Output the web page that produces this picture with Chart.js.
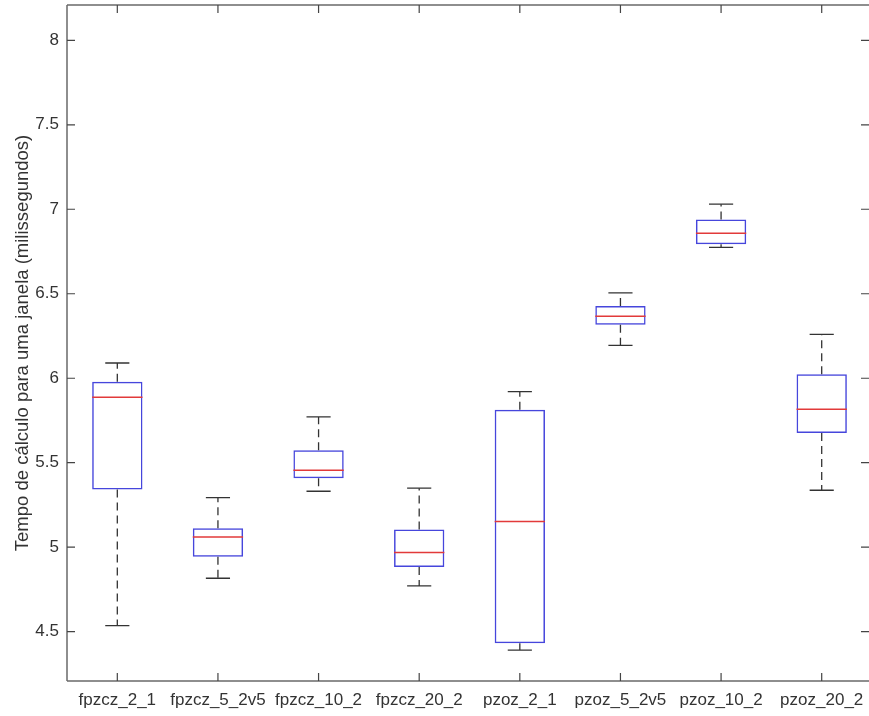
<!DOCTYPE html>
<html>
<head>
<meta charset="utf-8">
<style>
  html, body { margin: 0; padding: 0; background: #ffffff; }
  #wrap { width: 869px; height: 716px; }
</style>
<script src="https://cdn.jsdelivr.net/npm/chart.js@4/dist/chart.umd.min.js"></script>
</head>
<body>
<div id="wrap"><canvas id="c" width="869" height="716"></canvas></div>
<script>
const categories = ['fpzcz_2_1', 'fpzcz_5_2v5', 'fpzcz_10_2', 'fpzcz_20_2', 'pzoz_2_1', 'pzoz_5_2v5', 'pzoz_10_2', 'pzoz_20_2'];
const whiskerLow  = [4.536, 4.816, 5.331, 4.771, 4.391, 6.195, 6.775, 5.337];
const q1          = [5.341, 4.943, 5.408, 4.882, 4.432, 6.316, 6.793, 5.676];
const median      = [5.887, 5.061, 5.456, 4.969, 5.152, 6.367, 6.858, 5.817];
const q3          = [5.979, 5.112, 5.574, 5.105, 5.813, 6.428, 6.939, 6.024];
const whiskerHigh = [6.090, 5.293, 5.771, 5.349, 5.921, 6.505, 7.030, 6.260];
const yTicks = [4.5, 5, 5.5, 6, 6.5, 7, 7.5, 8];
const yTitle = 'Tempo de cálculo para uma janela (milissegundos)';

const FONT = 'Liberation Sans, Arial, sans-serif';
const AXIS_COLOR = '#6a6a6a';
const TEXT_COLOR = '#333333';
const BOX_COLOR = '#4646dc';
const MED_COLOR = '#e23a3a';
const WHISK_COLOR = '#333333';
const CAP_HALF = 0.12;
const TICK_LEN = 8;

function noPad(s) { s.paddingTop = 0; s.paddingBottom = 0; s.paddingLeft = 0; s.paddingRight = 0; }

const boxPlugin = {
  id: 'boxextras',
  afterDatasetsDraw(chart) {
    const ctx = chart.ctx;
    const xs = chart.scales.x, ys = chart.scales.y;
    const a = chart.chartArea;
    ctx.save();
    for (let i = 0; i < categories.length; i++) {
      const x = xs.getPixelForValue(i);
      ctx.strokeStyle = WHISK_COLOR;
      ctx.lineWidth = 1.3;
      ctx.setLineDash([8, 5]);
      ctx.beginPath();
      ctx.moveTo(x, ys.getPixelForValue(q3[i]));
      ctx.lineTo(x, ys.getPixelForValue(whiskerHigh[i]));
      ctx.moveTo(x, ys.getPixelForValue(q1[i]));
      ctx.lineTo(x, ys.getPixelForValue(whiskerLow[i]));
      ctx.stroke();
      ctx.setLineDash([]);
      ctx.beginPath();
      const xl = xs.getPixelForValue(i - CAP_HALF), xr = xs.getPixelForValue(i + CAP_HALF);
      const yh = ys.getPixelForValue(whiskerHigh[i]), yl = ys.getPixelForValue(whiskerLow[i]);
      ctx.moveTo(xl, yh); ctx.lineTo(xr, yh);
      ctx.moveTo(xl, yl); ctx.lineTo(xr, yl);
      ctx.stroke();
      const bl = xs.getPixelForValue(i - 0.25), br = xs.getPixelForValue(i + 0.25);
      const ym = ys.getPixelForValue(median[i]);
      ctx.strokeStyle = MED_COLOR;
      ctx.lineWidth = 1.5;
      ctx.beginPath();
      ctx.moveTo(bl, ym); ctx.lineTo(br, ym);
      ctx.stroke();
    }
    ctx.strokeStyle = AXIS_COLOR;
    ctx.lineWidth = 1.5;
    ctx.beginPath();
    ctx.moveTo(a.left, a.top); ctx.lineTo(a.right, a.top);
    ctx.moveTo(a.left, a.top); ctx.lineTo(a.left, a.bottom);
    ctx.moveTo(a.left, a.bottom); ctx.lineTo(a.right, a.bottom);
    ctx.stroke();
    ctx.lineWidth = 1.2;
    ctx.strokeStyle = '#444444';
    ctx.beginPath();
    for (const v of yTicks) {
      const y = ys.getPixelForValue(v);
      ctx.moveTo(a.left, y); ctx.lineTo(a.left + TICK_LEN, y);
      ctx.moveTo(a.right, y); ctx.lineTo(a.right - TICK_LEN, y);
    }
    for (let i = 0; i < categories.length; i++) {
      const x = xs.getPixelForValue(i);
      ctx.moveTo(x, a.bottom); ctx.lineTo(x, a.bottom - TICK_LEN);
      ctx.moveTo(x, a.top); ctx.lineTo(x, a.top + TICK_LEN);
    }
    ctx.stroke();
    ctx.restore();
  }
};

new Chart(document.getElementById('c'), {
  type: 'bar',
  data: {
    datasets: [{
      data: categories.map((c, i) => ({ x: i, y: [q1[i], q3[i]] })),
      backgroundColor: 'rgba(255,255,255,0)',
      borderColor: BOX_COLOR,
      borderWidth: 1.5,
      borderSkipped: false,
      categoryPercentage: 1,
      barPercentage: 0.5
    }]
  },
  options: {
    responsive: false,
    animation: false,
    devicePixelRatio: 1,
    layout: { padding: { top: 5, right: 0, left: 0, bottom: 0 } },
    plugins: { legend: { display: false }, tooltip: { enabled: false } },
    scales: {
      x: {
        type: 'linear',
        offset: false,
        min: -0.5,
        max: 7.47,
        grid: { display: false, drawTicks: false, offset: false },
        border: { display: false },
        afterFit(s) { s.height = 35; noPad(s); },
        afterBuildTicks(s) { s.ticks = categories.map((c, i) => ({ value: i })); },
        ticks: {
          autoSkip: false,
          maxRotation: 0,
          padding: 9,
          color: TEXT_COLOR,
          font: { family: FONT, size: 17 },
          callback: (v) => categories[v] !== undefined ? categories[v] : ''
        }
      },
      y: {
        type: 'linear',
        min: 4.208,
        max: 8.209,
        grid: { display: false, drawTicks: false },
        border: { display: false },
        afterFit(s) { s.width = 67; noPad(s); },
        afterBuildTicks(s) { s.ticks = yTicks.map(v => ({ value: v })); },
        ticks: {
          padding: 8,
          color: TEXT_COLOR,
          font: { family: FONT, size: 17 },
          callback: (v) => String(v)
        },
        title: {
          display: true,
          text: yTitle,
          color: TEXT_COLOR,
          font: { family: FONT, size: 18.5 },
          padding: { top: 12, bottom: 0 }
        }
      }
    }
  },
  plugins: [boxPlugin]
});
</script>
</body>
</html>
